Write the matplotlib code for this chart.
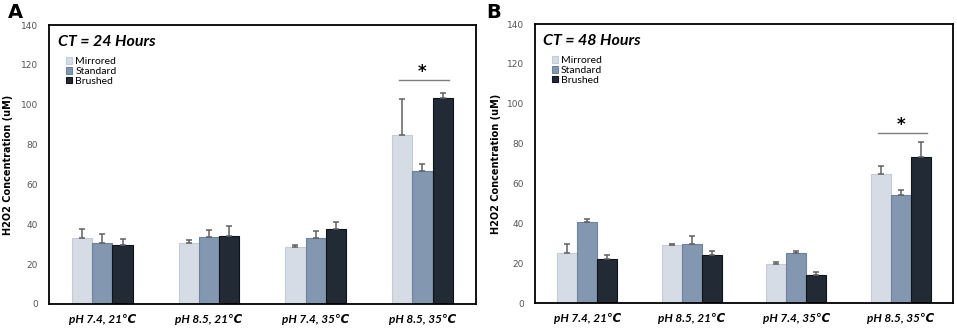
import matplotlib
matplotlib.use("Agg")
import matplotlib.pyplot as plt
import numpy as np

categories = ["pH 7.4, 21\u2103", "pH 8.5, 21\u2103", "pH 7.4, 35\u2103", "pH 8.5, 35\u2103"]
series_names = ["Mirrored", "Standard", "Brushed"]

# Panel A: CT = 24 Hours
a_mirrored = [33.2, 30.7, 28.7, 85.0]
a_standard = [30.8, 33.5, 33.2, 66.8]
a_brushed = [29.7, 34.2, 37.8, 103.5]
a_mirrored_err = [4.6, 1.5, 0.8, 17.8]
a_standard_err = [4.4, 3.8, 3.5, 3.7]
a_brushed_err = [2.8, 4.8, 3.2, 2.5]

# Panel B: CT = 48 Hours
b_mirrored = [25.1, 29.0, 19.4, 64.8]
b_standard = [40.7, 29.8, 25.0, 54.1]
b_brushed = [22.1, 24.3, 14.3, 73.1]
b_mirrored_err = [4.4, 0.5, 1.2, 4.2]
b_standard_err = [1.5, 3.6, 1.1, 2.7]
b_brushed_err = [2.0, 2.0, 1.1, 7.8]

colors = ["#D6DCE5", "#8497B0", "#222A35"]
edges = ["#C4CBD6", "#6F829C", "#101418"]
FAM = ["Lato", "DejaVu Sans"]

fig = plt.figure(figsize=(9.57, 3.29), dpi=100)

def panel(rect, vals, errs, title, letter, letter_x, sig_y, star_y, ylab_x):
    ax = fig.add_axes(rect)
    x = np.arange(len(categories))
    w = 0.19
    for i, (v, e) in enumerate(zip(vals, errs)):
        pos = x + (i - 1) * w
        ax.bar(pos, v, width=w, color=colors[i], edgecolor=edges[i], linewidth=0.8,
               label=series_names[i], zorder=2)
        ax.errorbar(pos, v, yerr=[np.zeros(len(e)), e], fmt="none", ecolor="#606060",
                    elinewidth=1.1, capsize=2.5, capthick=1.1, zorder=3)
    ax.set_xlim(-0.5, 3.5)
    ax.set_ylim(0, 140)
    ax.set_yticks(range(0, 141, 20))
    ax.tick_params(axis="y", length=0, labelsize=6.5, labelcolor="#555555", pad=8)
    ax.tick_params(axis="x", length=0, pad=7)
    ax.set_xticks(x)
    ax.set_xticklabels(categories, fontsize=8.5, fontweight="bold", fontstyle="italic",
                       family=FAM)
    for s in ax.spines.values():
        s.set_linewidth(1.3)
        s.set_color("black")
    ax.set_ylabel("H2O2 Concentration (uM)", fontsize=7, fontweight="bold")
    ax.yaxis.set_label_coords(ylab_x, 0.5)
    ax.text(0.02, 0.965, title, transform=ax.transAxes, fontsize=11.5, fontweight="bold",
            fontstyle="italic", va="top", ha="left", family=FAM)
    ax.legend(loc="upper left", bbox_to_anchor=(0.03, 0.9), frameon=False,
              prop={"family": FAM, "size": 7.5},
              handlelength=0.6, handleheight=0.6, handletextpad=0.3, labelspacing=0.08,
              borderaxespad=0)
    # significance
    ax.plot([3 - 0.22, 3 + 0.25], [sig_y, sig_y], color="#7F7F7F", lw=1.0)
    ax.text(3.0, star_y, "*", ha="center", va="center", fontsize=12, fontweight="bold")
    fig.text(letter_x, 0.962, letter, fontsize=14, fontweight="bold", ha="left", va="center")
    return ax

panel([0.0512, 0.076, 0.446, 0.848],
      [a_mirrored, a_standard, a_brushed],
      [a_mirrored_err, a_standard_err, a_brushed_err],
      "CT = 24 Hours", "A", 0.008, 112.3, 116.5, -0.085)
panel([0.559, 0.079, 0.4368, 0.848],
      [b_mirrored, b_standard, b_brushed],
      [b_mirrored_err, b_standard_err, b_brushed_err],
      "CT = 48 Hours", "B", 0.508, 85.4, 89.5, -0.082)

fig.savefig("out.png", dpi=100)
